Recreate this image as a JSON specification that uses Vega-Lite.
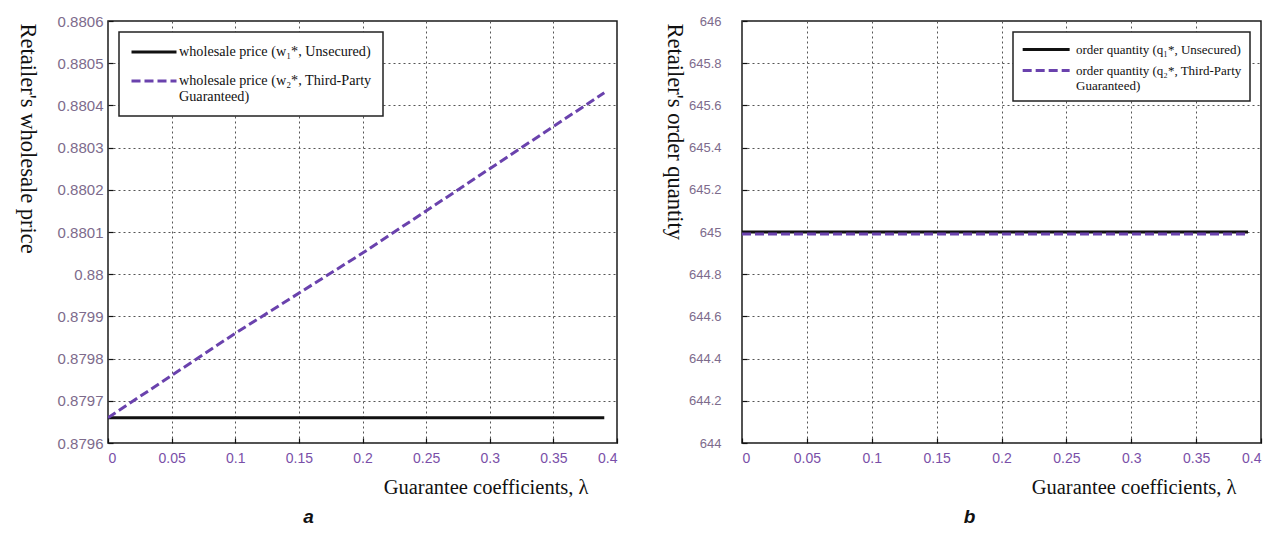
{
  "$schema": "https://vega.github.io/schema/vega-lite/v6.json",
  "background": "white",
  "padding": {"left": 14, "top": 13, "right": 0, "bottom": 0},
  "spacing": 42,
  "config": {
    "view": {"stroke": "#1a1a1a", "strokeWidth": 1.5},
    "axis": {
      "labelFont": "Liberation Sans",
      "labelFontSize": 14,
      "titleFont": "Liberation Serif",
      "titleFontSize": 20.5,
      "titleFontWeight": "normal",
      "titleColor": "#111111",
      "grid": true,
      "gridDash": [2, 3],
      "gridColor": "#555555",
      "gridWidth": 1,
      "gridOpacity": 1,
      "domain": false,
      "ticks": true,
      "tickColor": "#111111",
      "tickSize": -5,
      "tickWidth": 1.2
    },
    "legend": {
      "title": null,
      "symbolType": "M-1,0H5",
      "symbolStrokeWidth": 3,
      "labelFont": "Liberation Serif",
      "labelColor": "#111111",
      "labelLimit": 400,
      "strokeColor": "#222222",
      "strokeWidth": 1.5,
      "fillColor": "white",
      "gridAlign": "none"
    }
  },
  "resolve": {
    "scale": {"color": "independent", "strokeDash": "independent", "x": "independent", "y": "independent"},
    "legend": {"color": "independent", "strokeDash": "independent"}
  },
  "hconcat": [
    {
      "width": 509,
      "height": 422,
      "title": {"text": "a", "orient": "bottom", "anchor": "middle", "dx": -54, "offset": 10, "font": "Liberation Sans", "fontSize": 19, "fontStyle": "italic", "fontWeight": "bold", "color": "#111111"},
      "data": {"values": [
        {"lambda": 0, "value": 0.87966, "series": "wholesale price (w₁*, Unsecured)"},
        {"lambda": 0.39, "value": 0.87966, "series": "wholesale price (w₁*, Unsecured)"},
        {"lambda": 0, "value": 0.87966, "series": "wholesale price (w₂*, Third-Party|Guaranteed)"},
        {"lambda": 0.1, "value": 0.87986, "series": "wholesale price (w₂*, Third-Party|Guaranteed)"},
        {"lambda": 0.2, "value": 0.88005, "series": "wholesale price (w₂*, Third-Party|Guaranteed)"},
        {"lambda": 0.3, "value": 0.88025, "series": "wholesale price (w₂*, Third-Party|Guaranteed)"},
        {"lambda": 0.39, "value": 0.88043, "series": "wholesale price (w₂*, Third-Party|Guaranteed)"}
      ]},
      "mark": {"type": "line", "strokeWidth": 3, "clip": true},
      "encoding": {
        "x": {"field": "lambda", "type": "quantitative",
          "scale": {"domain": [0, 0.4], "nice": false, "zero": false},
          "axis": {"values": [0, 0.05, 0.1, 0.15, 0.2, 0.25, 0.3, 0.35, 0.4], "format": ".2~f", "labelColor": "#7a4fa8", "labelPadding": 13,
            "title": "Guarantee coefficients, λ", "titleAnchor": "end", "titleAlign": "right", "titleBaseline": "middle", "titleX": 480, "titleY": 44}},
        "y": {"field": "value", "type": "quantitative",
          "scale": {"domain": [0.8796, 0.8806], "nice": false, "zero": false},
          "axis": {"values": [0.8796, 0.8797, 0.8798, 0.8799, 0.88, 0.8801, 0.8802, 0.8803, 0.8804, 0.8805, 0.8806], "format": ".4~f", "labelColor": "#7d6b8c", "labelFontSize": 15, "labelPadding": 10,
            "title": "Retailer's wholesale price", "titleFontSize": 22.5, "titleAngle": 90, "titleAlign": "left", "titleBaseline": "alphabetic", "titleX": -88, "titleY": 2}},
        "color": {"field": "series", "type": "nominal",
          "scale": {"domain": ["wholesale price (w₁*, Unsecured)", "wholesale price (w₂*, Third-Party|Guaranteed)"], "range": ["#111111", "#6a42ad"]},
          "legend": {"orient": "top-left", "offset": 11, "labelFontSize": 14.2, "symbolSize": 225, "padding": 11, "rowPadding": 12, "labelOffset": 31, "labelExpr": "split(datum.label, '|')"}},
        "strokeDash": {"field": "series", "type": "nominal",
          "scale": {"domain": ["wholesale price (w₁*, Unsecured)", "wholesale price (w₂*, Third-Party|Guaranteed)"], "range": [[1, 0], [9, 4]]},
          "legend": {"orient": "top-left", "offset": 11, "labelFontSize": 14.2, "symbolSize": 225, "padding": 11, "rowPadding": 12, "labelOffset": 31, "labelExpr": "split(datum.label, '|')"}}
      }
    },
    {
      "width": 519,
      "height": 422,
      "title": {"text": "b", "orient": "bottom", "anchor": "middle", "dx": -32, "offset": 10, "font": "Liberation Sans", "fontSize": 19, "fontStyle": "italic", "fontWeight": "bold", "color": "#111111"},
      "data": {"values": [
        {"lambda": 0, "value": 645, "series": "order quantity (q₁*, Unsecured)"},
        {"lambda": 0.39, "value": 645, "series": "order quantity (q₁*, Unsecured)"},
        {"lambda": 0, "value": 644.99, "series": "order quantity (q₂*, Third-Party|Guaranteed)"},
        {"lambda": 0.39, "value": 644.99, "series": "order quantity (q₂*, Third-Party|Guaranteed)"}
      ]},
      "mark": {"type": "line", "strokeWidth": 3, "clip": true},
      "encoding": {
        "x": {"field": "lambda", "type": "quantitative",
          "scale": {"domain": [0, 0.4], "nice": false, "zero": false},
          "axis": {"values": [0, 0.05, 0.1, 0.15, 0.2, 0.25, 0.3, 0.35, 0.4], "format": ".2~f", "labelColor": "#7a4fa8", "labelPadding": 13,
            "title": "Guarantee coefficients, λ", "titleAnchor": "end", "titleAlign": "right", "titleBaseline": "middle", "titleX": 494, "titleY": 44}},
        "y": {"field": "value", "type": "quantitative",
          "scale": {"domain": [644, 646], "nice": false, "zero": false},
          "axis": {"values": [644, 644.2, 644.4, 644.6, 644.8, 645, 645.2, 645.4, 645.6, 645.8, 646], "format": ".1~f", "labelColor": "#7d6b8c", "labelFontSize": 13, "labelPadding": 26,
            "title": "Retailer's order quantity", "titleFontSize": 22.5, "titleAngle": 90, "titleAlign": "left", "titleBaseline": "alphabetic", "titleX": -75, "titleY": 2}},
        "color": {"field": "series", "type": "nominal",
          "scale": {"domain": ["order quantity (q₁*, Unsecured)", "order quantity (q₂*, Third-Party|Guaranteed)"], "range": ["#111111", "#6a42ad"]},
          "legend": {"orient": "top-right", "offset": 11, "labelFontSize": 13, "symbolSize": 245, "padding": 8, "rowPadding": 4, "labelOffset": 36, "labelExpr": "split(datum.label, '|')"}},
        "strokeDash": {"field": "series", "type": "nominal",
          "scale": {"domain": ["order quantity (q₁*, Unsecured)", "order quantity (q₂*, Third-Party|Guaranteed)"], "range": [[1, 0], [9, 4]]},
          "legend": {"orient": "top-right", "offset": 11, "labelFontSize": 13, "symbolSize": 245, "padding": 8, "rowPadding": 4, "labelOffset": 36, "labelExpr": "split(datum.label, '|')"}}
      }
    }
  ]
}
